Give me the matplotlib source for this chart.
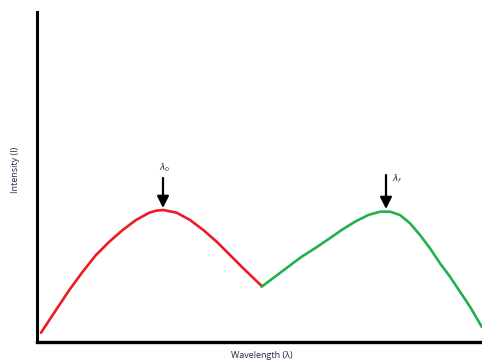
import matplotlib
matplotlib.use("Agg")
import matplotlib.pyplot as plt

# Emission band before the shift (red) and after the shift (green)
red_x = [4.0, 19.0, 32.3, 45.7, 59.0, 72.3, 85.7, 99.0, 112.3, 119.0, 126.3,
         139.7, 153.0, 166.3, 179.7, 193.0, 206.3, 224.7]
red_y = [9.3, 32.0, 52.0, 70.3, 87.0, 100.3, 112.0, 122.0, 129.3, 131.3, 132.0,
         129.3, 122.0, 112.0, 100.3, 87.0, 73.7, 56.0]
green_x = [224.7, 238.0, 251.3, 264.7, 278.0, 291.3, 304.7, 318.0, 331.3, 343.0,
           353.0, 363.0, 373.0, 383.0, 393.0, 403.0, 413.0, 423.0, 433.0, 444.7]
green_y = [55.3, 65.3, 75.3, 85.3, 93.7, 102.7, 112.0, 120.3, 127.0, 130.3,
           130.3, 127.0, 118.7, 107.0, 93.7, 78.7, 65.3, 50.3, 35.3, 15.3]

# Peak markers: (x, arrow top, arrow tip, label)
peaks = [
    (126, 164, 134, r"$\lambda_0$"),
    (349, 167, 133, r"$\lambda_f$"),
]

fig = plt.figure(figsize=(4.82, 3.62), dpi=100)
ax = fig.add_axes([37 / 482, 20 / 362, 445 / 482, 330 / 362])
ax.set_xlim(0, 445)
ax.set_ylim(0, 330)

ax.plot(red_x, red_y, color="#ed1c24", lw=1.9, solid_joinstyle="round",
        solid_capstyle="round", clip_on=False)
ax.plot(green_x, green_y, color="#22b14c", lw=1.9, solid_joinstyle="round",
        solid_capstyle="round", clip_on=False)

for i, (px, top, tip, lab) in enumerate(peaks):
    ax.annotate("", xy=(px, tip), xytext=(px, top),
                arrowprops=dict(arrowstyle="-|>,head_width=0.35,head_length=0.7",
                                color="black", lw=1.6, shrinkA=0, shrinkB=0))
    if i == 0:
        ax.text(px + 2, top + 4, lab, ha="center", va="bottom",
                fontsize=6.5, color="#1f2a44")
    else:
        ax.text(px + 6, top - 10, lab, ha="left", va="bottom",
                fontsize=6.5, color="#1f2a44")

for side in ("top", "right"):
    ax.spines[side].set_visible(False)
ax.spines["left"].set_linewidth(2.2)
ax.spines["bottom"].set_linewidth(2.4)
ax.set_xticks([])
ax.set_yticks([])

fig.text(262 / 482, 1 - 355 / 362, "Wavelength (\u03bb)", ha="center", va="center",
         fontsize=6.5, family="Open Sans", color="#1f2a44")
fig.text(15 / 482, 1 - 170 / 362, "Intensity (I)", ha="center", va="center",
         rotation=90, fontsize=6.5, family="Open Sans", color="#1f2a44")

fig.savefig("out.png", dpi=100, facecolor="white")
